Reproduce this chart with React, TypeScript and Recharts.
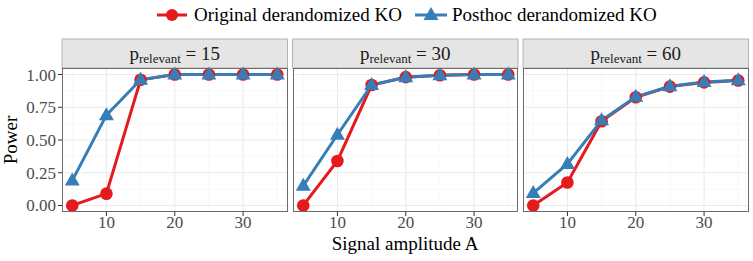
import React from "react"
import { LineChart, Line, XAxis, YAxis, CartesianGrid } from "recharts"

const amplitudes = [5, 10, 15, 20, 25, 30, 35]
const panelLabels = ["15", "30", "60"]

const original15 = [0.0, 0.09, 0.96, 1.0, 1.0, 1.0, 1.0]
const posthoc15 = [0.19, 0.69, 0.96, 1.0, 1.0, 1.0, 1.0]
const original30 = [0.0, 0.34, 0.92, 0.98, 0.995, 1.0, 1.0]
const posthoc30 = [0.15, 0.54, 0.92, 0.98, 0.995, 1.0, 1.0]
const original60 = [0.0, 0.175, 0.643, 0.826, 0.908, 0.94, 0.954]
const posthoc60 = [0.095, 0.317, 0.65, 0.83, 0.91, 0.943, 0.956]

const xTicks = [10, 20, 30]
const yTicks = [0, 0.25, 0.5, 0.75, 1]

const RED = "#E41A1C"
const BLUE = "#377EB8"
const FONT = "Liberation Serif, DejaVu Serif, serif"

const panels = [
  { label: panelLabels[0], original: original15, posthoc: posthoc15 },
  { label: panelLabels[1], original: original30, posthoc: posthoc30 },
  { label: panelLabels[2], original: original60, posthoc: posthoc60 },
]

function Triangle(props: any) {
  const { cx, cy } = props
  if (cx == null || cy == null) return null
  return <polygon points={`${cx},${cy - 8} ${cx - 7.5},${cy + 5} ${cx + 7.5},${cy + 5}`} fill={BLUE} />
}

function Circle(props: any) {
  const { cx, cy } = props
  if (cx == null || cy == null) return null
  return <circle cx={cx} cy={cy} r={6.3} fill={RED} />
}

const PLOT_TOP = 68
const PLOT_BOTTOM = 212
const panelLeft = [62, 292.5, 523]
const panelWidth = 225.5

export default function App() {
  return (
    <div style={{ position: "absolute", left: 0, top: 0, width: 753, height: 261, background: "#fff", fontFamily: FONT }}>
      {/* legend, facet strips and axis titles */}
      <svg width={753} height={261} style={{ position: "absolute", left: 0, top: 0 }}>
        <line x1={157} x2={187} y1={15} y2={15} stroke={RED} strokeWidth={3} />
        <circle cx={172} cy={15} r={6} fill={RED} />
        <text x={194} y={21} fontSize={19} fontFamily={FONT} fill="#000">Original derandomized KO</text>
        <line x1={415} x2={447} y1={15} y2={15} stroke={BLUE} strokeWidth={3} />
        <polygon points="431,7 423.5,20 438.5,20" fill={BLUE} />
        <text x={452} y={21} fontSize={19} fontFamily={FONT} fill="#000">Posthoc derandomized KO</text>

        {panels.map((p, i) => (
          <g key={p.label}>
            <rect x={panelLeft[i]} y={39} width={panelWidth} height={29} fill="#e5e5e5" stroke="#b3b3b3" strokeWidth={1} />
            <text x={panelLeft[i] + panelWidth / 2} y={60} textAnchor="middle" fontSize={19} fontFamily={FONT} fill="#1a1a1a">
              p<tspan fontSize={13} dy={3}>relevant</tspan><tspan dy={-3}> = {p.label}</tspan>
            </text>
          </g>
        ))}

        <text x={405} y={250} textAnchor="middle" fontSize={19} fontFamily={FONT} fill="#000">Signal amplitude A</text>
        <text transform="translate(17,140) rotate(-90)" textAnchor="middle" fontSize={19} fontFamily={FONT} fill="#000">Power</text>
      </svg>

      {panels.map((p, i) => {
        const data = amplitudes.map((a, k) => ({ a, original: p.original[k], posthoc: p.posthoc[k] }))
        const first = i === 0
        const yW = first ? 62 : 0
        const left = panelLeft[i] - yW
        return (
          <div key={p.label} style={{ position: "absolute", left, top: 0 }}>
            <LineChart
              width={panelWidth + yW}
              height={261}
              data={data}
              margin={{ top: PLOT_TOP, right: 0, bottom: 261 - PLOT_BOTTOM - 26, left: 0 }}
            >
              <CartesianGrid stroke="#f4f4f4" strokeWidth={0.6} verticalValues={[5, 15, 25, 35]} horizontalValues={[0.125, 0.375, 0.625, 0.875]} />
              <CartesianGrid stroke="#ebebeb" strokeWidth={1.1} verticalValues={xTicks} horizontalValues={yTicks} />
              <XAxis
                dataKey="a"
                type="number"
                domain={[3.5, 36.5]}
                ticks={xTicks}
                height={26}
                tickSize={4}
                tickMargin={0}
                axisLine={false}
                tickLine={{ stroke: "#333" }}
                tick={{ fill: "#4d4d4d", fontSize: 17, fontFamily: FONT }}
              />
              <YAxis
                type="number"
                domain={[-0.05, 1.05]}
                ticks={yTicks}
                hide={!first}
                width={yW}
                tickSize={4}
                tickMargin={2}
                axisLine={false}
                tickLine={{ stroke: "#333" }}
                tickFormatter={(v: number) => v.toFixed(2)}
                tick={{ fill: "#4d4d4d", fontSize: 17, fontFamily: FONT }}
                interval={0}
              />
              <Line dataKey="original" stroke={RED} strokeWidth={3} dot={<Circle />} isAnimationActive={false} />
              <Line dataKey="posthoc" stroke={BLUE} strokeWidth={3} dot={<Triangle />} isAnimationActive={false} />
            </LineChart>
            <div
              style={{
                position: "absolute",
                left: yW,
                top: PLOT_TOP,
                width: panelWidth,
                height: PLOT_BOTTOM - PLOT_TOP,
                border: "1px solid #6b6b6b",
                boxSizing: "border-box",
                pointerEvents: "none",
              }}
            />
          </div>
        )
      })}
    </div>
  )
}
